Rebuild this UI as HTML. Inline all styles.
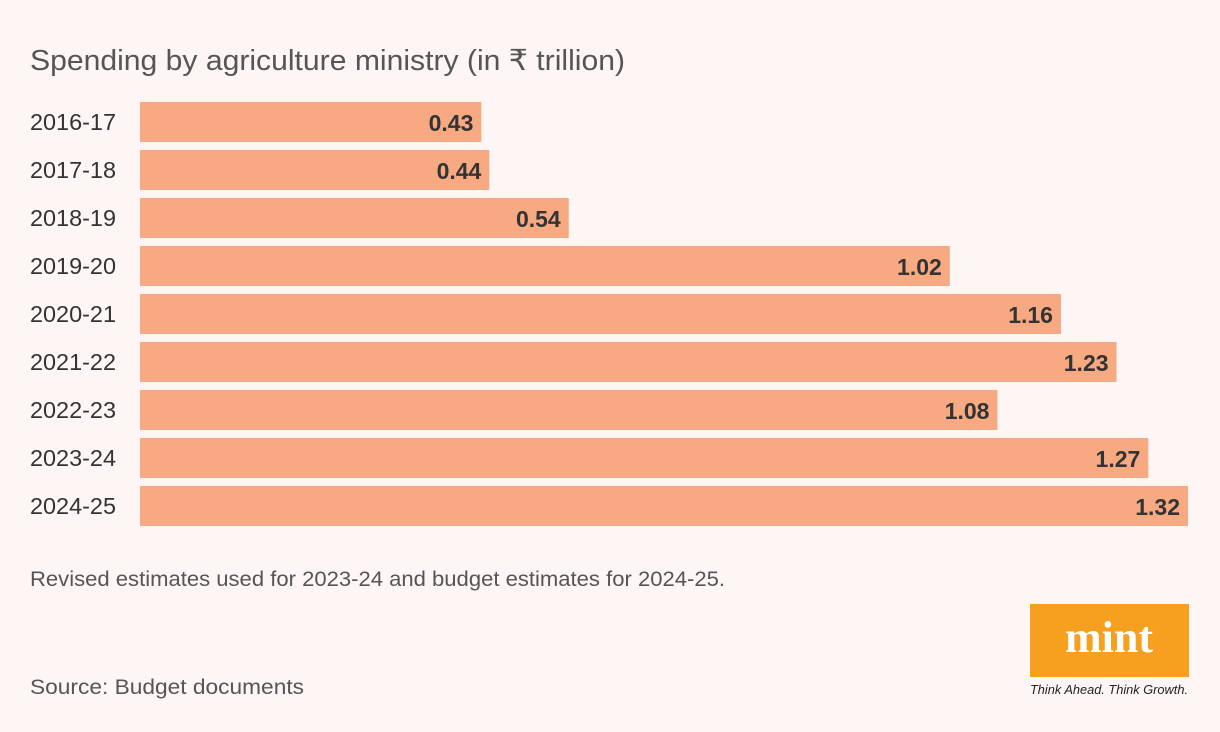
<!DOCTYPE html>
<html><head><meta charset="utf-8"><style>
body{margin:0;background:#fdf6f5;font-family:"Liberation Sans",sans-serif;}
svg{display:block}
</style></head><body>
<svg width="1220" height="732">
<rect width="1220" height="732" fill="#fdf6f5"/>
<text x="30" y="70" font-size="29" fill="#555" textLength="595" lengthAdjust="spacingAndGlyphs">Spending by agriculture ministry (in ₹ trillion)</text>
<g id="bars"></g>
<text x="30" y="586" font-size="21" fill="#555" textLength="695" lengthAdjust="spacingAndGlyphs">Revised estimates used for 2023-24 and budget estimates for 2024-25.</text>
<text x="30" y="694" font-size="21" fill="#555" textLength="274" lengthAdjust="spacingAndGlyphs">Source: Budget documents</text>
<g>
<rect x="1030" y="604" width="159" height="73" fill="#f7a020"/>
<text x="1109" y="652" font-size="44" font-weight="bold" font-family="Liberation Serif,serif" fill="#fff" text-anchor="middle">mint</text>
<text x="1109" y="694" font-size="13" font-style="italic" fill="#222" text-anchor="middle" textLength="158" lengthAdjust="spacingAndGlyphs">Think Ahead. Think Growth.</text>
</g>
</svg>
<script>
const categories=["2016-17","2017-18","2018-19","2019-20","2020-21","2021-22","2022-23","2023-24","2024-25"];
const values=[0.43,0.44,0.54,1.02,1.16,1.23,1.08,1.27,1.32];
const labels=["0.43","0.44","0.54","1.02","1.16","1.23","1.08","1.27","1.32"];
const NS="http://www.w3.org/2000/svg";
const g=document.getElementById('bars');
const x=v=>140+v*(1048/1.32);
const y=i=>102+i*48;
categories.forEach((c,i)=>{
  const t=document.createElementNS(NS,'text');
  t.setAttribute('x',30);t.setAttribute('y',y(i)+28);t.setAttribute('font-size',23);t.setAttribute('fill','#333');
  t.setAttribute('textLength',86);t.setAttribute('lengthAdjust','spacingAndGlyphs');
  t.textContent=c;
  
  
  g.appendChild(t);
  const r=document.createElementNS(NS,'rect');
  r.setAttribute('x',140);r.setAttribute('y',y(i));r.setAttribute('width',x(values[i])-140);r.setAttribute('height',40);r.setAttribute('fill','#f7a982');
  
  
  g.appendChild(r);
  const v=document.createElementNS(NS,'text');
  v.setAttribute('x',x(values[i])-8);v.setAttribute('y',y(i)+29);v.setAttribute('font-size',23);v.setAttribute('font-weight','bold');v.setAttribute('fill','#333');v.setAttribute('text-anchor','end');
  v.textContent=labels[i];
  
  
  g.appendChild(v);
});
</script>
</body></html>
